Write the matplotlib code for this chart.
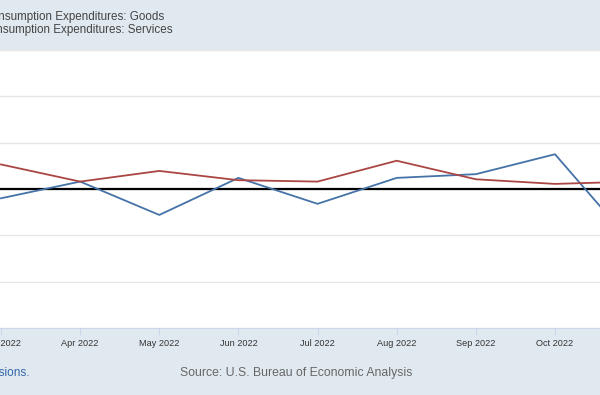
import matplotlib
matplotlib.use("Agg")
import matplotlib.pyplot as plt

# monthly percent change
months = ["Mar 2022", "Apr 2022", "May 2022", "Jun 2022", "Jul 2022",
          "Aug 2022", "Sep 2022", "Oct 2022", "Nov 2022"]
goods = [-0.20, 0.16, -0.56, 0.24, -0.32, 0.24, 0.32, 0.75, -1.22]
services = [0.53, 0.16, 0.39, 0.19, 0.16, 0.61, 0.21, 0.11, 0.16]
y_ticks = [-3, -2, -1, 0, 1, 2, 3]

legend_labels = ["Personal Consumption Expenditures: Goods",
                 "Personal Consumption Expenditures: Services"]
source_text = "Source: U.S. Bureau of Economic Analysis"
note_text = "Shaded areas indicate U.S. recessions."

plt.rcParams['font.family'] = ['Liberation Sans', 'DejaVu Sans']

W, H = 600, 395
bg = '#e1e9f0'
fig = plt.figure(figsize=(W / 100, H / 100), dpi=100, facecolor=bg)

# plot area: white band from y=50 to y=328 (pixels from top), full width
top_px, bot_px = 50, 328
ax = fig.add_axes([0, (H - bot_px) / H, 1, (bot_px - top_px) / H])
ax.set_facecolor('white')

x = list(range(len(months)))
for t in y_ticks:
    ax.axhline(t, color='#e6e6e6', lw=1, zorder=1)
ax.axhline(0, color='black', lw=1.6, zorder=2)
ax.plot(x, goods, color='#4572a7', lw=1.3, zorder=3)
ax.plot(x, services, color='#aa4643', lw=1.3, zorder=3)

ax.set_xticks(x)
ax.set_xticklabels(months, fontsize=6.6, color='#333333')
ax.tick_params(axis='x', length=5, color='#ccd6eb', pad=3)
ax.set_yticks([])
for side in ['top', 'left', 'right']:
    ax.spines[side].set_visible(False)
ax.spines['bottom'].set_color('#ccd6eb')

# the reference is a crop: Mar sits at the left edge, Nov is off to the right
step = 79.14  # pixels per month
ax.set_xlim(-1 / step, (W - 1) / step)
ax.set_ylim(y_ticks[0], y_ticks[-1])

# legend text, cut off on the left like the reference
fig.text(164 / W, 1 - 17 / H, legend_labels[0], ha='right', va='center',
         fontsize=8.4, color='#444444')
fig.text(173 / W, 1 - 30 / H, legend_labels[1], ha='right', va='center',
         fontsize=8.4, color='#444444')

fig.text(29 / W, 1 - 373 / H, note_text, ha='right', va='center',
         fontsize=8.6, color='#3366aa')
fig.text(296 / W, 1 - 373 / H, source_text, ha='center', va='center',
         fontsize=8.8, color='#666666')

fig.savefig('out.png', dpi=100, facecolor=bg)
